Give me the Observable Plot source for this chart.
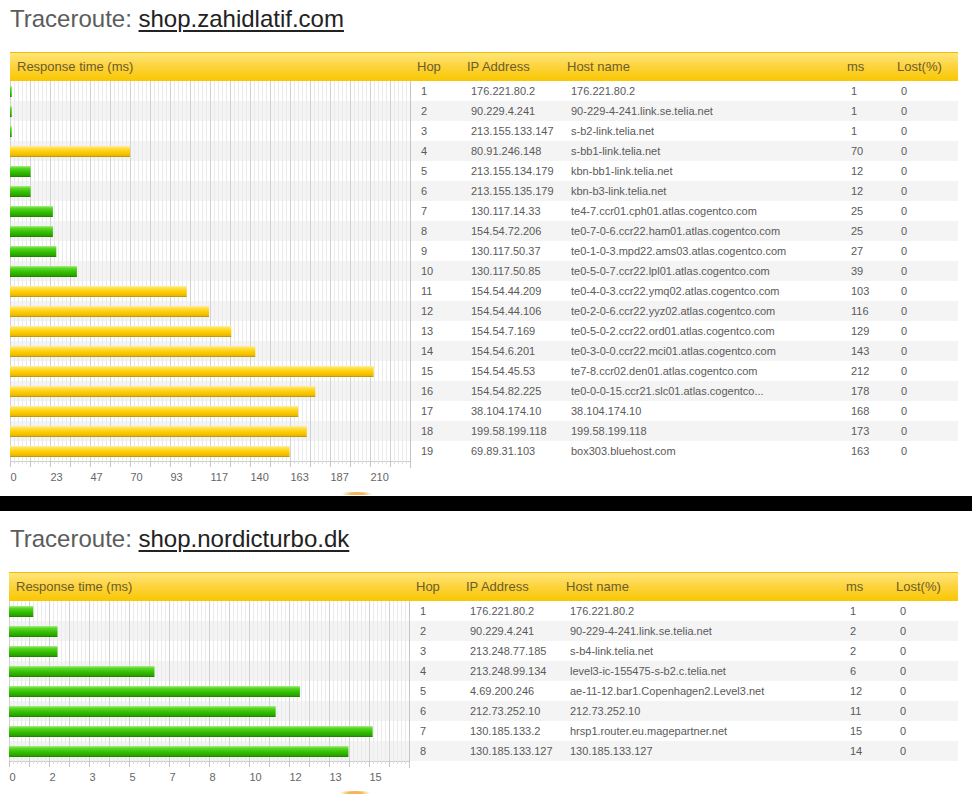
<!DOCTYPE html>
<html><head><meta charset="utf-8">
<script src="https://cdn.jsdelivr.net/npm/d3@7"></script>
<script src="https://cdn.jsdelivr.net/npm/@observablehq/plot@0.6"></script>
<style>
body{margin:0;background:#fff;width:972px;height:794px;overflow:hidden;position:relative;font-family:"Liberation Sans",Arial,sans-serif;}
.title{position:absolute;font-size:24px;line-height:24px;color:#5c5c5c;white-space:nowrap;}
.title .link{color:#222;text-decoration:underline;text-decoration-thickness:1.5px;text-underline-offset:3px;}
.hdr{position:absolute;height:29px;box-sizing:border-box;border-top:1px solid #f2bc00;background:linear-gradient(#ffe67c,#fdd440 45%,#f9c700);font-size:13px;line-height:28px;color:#6b5c2e;}
.hdr span,.row span{position:absolute;top:0;white-space:nowrap;}
.tbl{position:absolute;}
.row{position:relative;height:20px;font-size:11px;line-height:20px;color:#5a5a5a;}
.row.alt{background:#f4f4f4;}
.band{position:absolute;left:0;width:972px;background:#000;}
.bump{position:absolute;height:3px;width:30px;border-radius:50% 50% 0 0;background:linear-gradient(to right,rgba(240,170,60,0),rgba(240,170,60,0.85) 30%,rgba(240,170,60,0.85) 70%,rgba(240,170,60,0));}
.chart{position:absolute;}
</style>
</head><body>
<svg width="0" height="0" style="position:absolute;left:0;top:0">
<defs>
<linearGradient id="gYellow" x1="0" y1="0" x2="0" y2="1">
<stop offset="0" stop-color="#fff0a0"/>
<stop offset="0.2" stop-color="#ffdf48"/>
<stop offset="0.55" stop-color="#fdcc00"/>
<stop offset="0.85" stop-color="#efbb00"/>
<stop offset="1" stop-color="#b08c10"/>
</linearGradient>
<linearGradient id="gGreen" x1="0" y1="0" x2="0" y2="1">
<stop offset="0" stop-color="#a6f27a"/>
<stop offset="0.2" stop-color="#5ad62c"/>
<stop offset="0.55" stop-color="#35bf00"/>
<stop offset="0.85" stop-color="#2aa400"/>
<stop offset="1" stop-color="#1f7a00"/>
</linearGradient>
</defs>
</svg>
<script>
// ---- data: traceroute 1 ----
const host1 = "shop.zahidlatif.com";
const hops1 = [1,2,3,4,5,6,7,8,9,10,11,12,13,14,15,16,17,18,19];
const ips1 = ["176.221.80.2","90.229.4.241","213.155.133.147","80.91.246.148","213.155.134.179","213.155.135.179","130.117.14.33","154.54.72.206","130.117.50.37","130.117.50.85","154.54.44.209","154.54.44.106","154.54.7.169","154.54.6.201","154.54.45.53","154.54.82.225","38.104.174.10","199.58.199.118","69.89.31.103"];
const hosts1 = ["176.221.80.2","90-229-4-241.link.se.telia.net","s-b2-link.telia.net","s-bb1-link.telia.net","kbn-bb1-link.telia.net","kbn-b3-link.telia.net","te4-7.ccr01.cph01.atlas.cogentco.com","te0-7-0-6.ccr22.ham01.atlas.cogentco.com","te0-1-0-3.mpd22.ams03.atlas.cogentco.com","te0-5-0-7.ccr22.lpl01.atlas.cogentco.com","te0-4-0-3.ccr22.ymq02.atlas.cogentco.com","te0-2-0-6.ccr22.yyz02.atlas.cogentco.com","te0-5-0-2.ccr22.ord01.atlas.cogentco.com","te0-3-0-0.ccr22.mci01.atlas.cogentco.com","te7-8.ccr02.den01.atlas.cogentco.com","te0-0-0-15.ccr21.slc01.atlas.cogentco...","38.104.174.10","199.58.199.118","box303.bluehost.com"];
const ms1 = [1,1,1,70,12,12,25,25,27,39,103,116,129,143,212,178,168,173,163];
const lost1 = [0,0,0,0,0,0,0,0,0,0,0,0,0,0,0,0,0,0,0];

// ---- data: traceroute 2 ----
const host2 = "shop.nordicturbo.dk";
const hops2 = [1,2,3,4,5,6,7,8];
const ips2 = ["176.221.80.2","90.229.4.241","213.248.77.185","213.248.99.134","4.69.200.246","212.73.252.10","130.185.133.2","130.185.133.127"];
const hosts2 = ["176.221.80.2","90-229-4-241.link.se.telia.net","s-b4-link.telia.net","level3-ic-155475-s-b2.c.telia.net","ae-11-12.bar1.Copenhagen2.Level3.net","212.73.252.10","hrsp1.router.eu.magepartner.net","130.185.133.127"];
const ms2 = [1,2,2,6,12,11,15,14];
const lost2 = [0,0,0,0,0,0,0,0];

const chartHead = "Response time (ms)";
const columnHeads = ["Hop","IP Address","Host name","ms","Lost(%)"];
const slowThreshold = 50;

const headOffsets = [407,457,557,837,887];
const cellOffsets = [10,60,160,440,490];
const ROW = 20;

function el(tag, cls, parent) {
  const e = document.createElement(tag);
  if (cls) e.className = cls;
  if (parent) parent.appendChild(e);
  return e;
}

function widget({top, left, host, hops, ips, hosts, ms, lost}) {
  const n = hops.length;
  const title = el("div", "title", document.body);
  title.style.left = "10px";
  title.style.top = (top - 45) + "px";
  title.append("Traceroute: ");
  const link = el("span", "link", title);
  link.textContent = host;

  const hdr = el("div", "hdr", document.body);
  hdr.style.left = left + "px";
  hdr.style.top = top + "px";
  hdr.style.width = (958 - left) + "px";
  const h0 = el("span", null, hdr); h0.style.left = "7px"; h0.textContent = chartHead;
  columnHeads.forEach((c, i) => {
    const s = el("span", null, hdr); s.style.left = headOffsets[i] + "px"; s.textContent = c;
  });

  const tbl = el("div", "tbl", document.body);
  tbl.style.left = (left + 401) + "px";
  tbl.style.top = (top + 29) + "px";
  tbl.style.width = (958 - left - 401) + "px";
  hops.forEach((h, i) => {
    const r = el("div", "row" + (h % 2 === 0 ? " alt" : ""), tbl);
    [h, ips[i], hosts[i], ms[i], lost[i]].forEach((v, j) => {
      const s = el("span", null, r); s.style.left = cellOffsets[j] + "px"; s.textContent = v;
    });
  });

  const data = hops.map((h, i) => ({hop: h, ms: ms[i]}));
  const xmax = d3.max(ms) * 1.1;
  const minor = d3.range(0, 101).filter(k => k % 5).map(k => k * xmax / 100);
  const major = d3.range(0, 21).map(k => k * xmax / 20);
  const labelTicks = d3.range(0, 10).map(k => k * xmax / 10);
  const H = n * ROW;
  const bar = {x1: 0, x2: "ms", y1: d => d.hop - 1, y2: d => d.hop, insetTop: 5, insetBottom: 4};

  const plot = Plot.plot({
    width: 402, height: H + 35,
    marginLeft: 0, marginRight: 2, marginTop: 0, marginBottom: 35,
    x: {domain: [0, xmax], range: [0, 400], label: null},
    y: {domain: [0, n], range: [0, H], axis: null},
    style: {fontFamily: '"Liberation Sans", Arial, sans-serif', fontSize: "11px", background: "transparent", overflow: "visible"},
    marks: [
      Plot.rect(data.filter(d => d.hop % 2 === 0), {y1: d => d.hop - 1, y2: d => d.hop, fill: "#f4f4f4"}),
      Plot.ruleX(minor, {stroke: "#ebebeb"}),
      Plot.ruleX(major, {stroke: "#d2d2d2"}),
      Plot.rect(data.filter(d => d.ms < slowThreshold), {...bar, fill: "url(#gGreen)"}),
      Plot.rect(data.filter(d => d.ms >= slowThreshold), {...bar, fill: "url(#gYellow)"}),
      Plot.ruleY([n], {stroke: "#cccccc"}),
      Plot.axisX(minor, {tickSize: 3, stroke: "#e0e0e0", fill: "none", label: null}),
      Plot.axisX(major, {tickSize: 6, stroke: "#c4c4c4", fill: "none", label: null}),
      Plot.axisX(labelTicks, {tickSize: 0, tickPadding: 12, stroke: "none", fill: "#666", textAnchor: "start", tickFormat: d => Math.round(d), label: null}),
      Plot.ruleX([xmax], {stroke: "#c4c4c4", insetBottom: -7})
    ]
  });
  const wrap = el("div", "chart", document.body);
  wrap.style.left = left + "px";
  wrap.style.top = (top + 29) + "px";
  wrap.style.width = "402px";
  wrap.appendChild(plot);
}

widget({top: 52, left: 10, host: host1, hops: hops1, ips: ips1, hosts: hosts1, ms: ms1, lost: lost1});
widget({top: 572, left: 9, host: host2, hops: hops2, ips: ips2, hosts: hosts2, ms: ms2, lost: lost2});

const band = el("div", "band", document.body);
band.style.top = "496px"; band.style.height = "15px";
const b1 = el("div", "bump", document.body); b1.style.left = "342px"; b1.style.top = "492px";
const b2 = el("div", "bump", document.body); b2.style.left = "340px"; b2.style.top = "791px";
</script>
</body></html>
